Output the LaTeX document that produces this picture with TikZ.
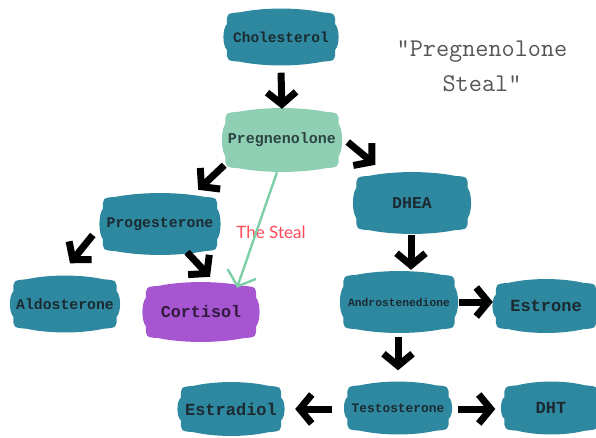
\documentclass[tikz,border=0pt]{standalone}
\usepackage{fontspec}
\newfontfamily\nodefont{Liberation Mono}
\newfontfamily\stealfont{Lato}
\usetikzlibrary{arrows.meta,calc,backgrounds}
\definecolor{tealc}{HTML}{2E88A0}
\definecolor{mintc}{HTML}{8FD0B4}
\definecolor{purpc}{HTML}{A656D0}
\definecolor{linegreen}{HTML}{7CCFA6}
\definecolor{stealred}{HTML}{FF4858}
\definecolor{txtdark}{HTML}{1B2A30}
\definecolor{titlegray}{HTML}{555555}
\newcommand\blob[2]{%
 \fill[#2] let \p1=(#1.south west), \p2=(#1.north east), \p3=($(#1.north east)-(#1.south west)$) in
 ({\x1+14pt},{\y2-3pt}) .. controls ({\x1+0.35*\x3},{\y2+2pt}) and ({\x2-0.35*\x3},{\y2+2pt}) .. ({\x2-14pt},{\y2-3pt})
 .. controls ({\x2-1pt},{\y2-4pt}) .. ({\x2-1pt},{\y2-15pt})
 .. controls ({\x2+3.5pt},{\y1+0.65*\y3}) and ({\x2+3.5pt},{\y1+0.35*\y3}) .. ({\x2-1pt},{\y1+15pt})
 .. controls ({\x2-1pt},{\y1+4pt}) .. ({\x2-14pt},{\y1+3pt})
 .. controls ({\x2-0.35*\x3},{\y1-2pt}) and ({\x1+0.35*\x3},{\y1-2pt}) .. ({\x1+14pt},{\y1+3pt})
 .. controls ({\x1+1pt},{\y1+4pt}) .. ({\x1+1pt},{\y1+15pt})
 .. controls ({\x1-3.5pt},{\y1+0.35*\y3}) and ({\x1-3.5pt},{\y1+0.65*\y3}) .. ({\x1+1pt},{\y2-15pt})
 .. controls ({\x1+1pt},{\y2-4pt}) .. cycle;}
\tikzset{
  chem/.style={inner sep=0pt, text=txtdark},
  arr/.style={line width=7pt, black, -{Straight Barb[length=12pt,width=29pt]}},
  steal/.style={line width=2.4pt, linegreen, -{Straight Barb[length=13pt,width=30pt]}},
}
\begin{document}
\begin{tikzpicture}[x=1pt,y=-1pt]
\useasboundingbox (0,0) rectangle (596,437);
% nodes
\node[chem, minimum width=110pt, minimum height=55pt, font=\nodefont\bfseries\fontsize{14.5}{16}\selectfont] (chol) at (281,37) {Cholesterol};
\node[chem, minimum width=115pt, minimum height=62pt, font=\nodefont\bfseries\fontsize{15}{17}\selectfont, text=txtdark!85!mintc] (preg) at (282,140) {Pregnenolone};
\node[chem, minimum width=113pt, minimum height=60pt, font=\nodefont\bfseries\fontsize{16.5}{18}\selectfont] (dhea) at (412,203) {DHEA};
\node[chem, minimum width=116pt, minimum height=60pt, font=\nodefont\bfseries\fontsize{14.8}{16}\selectfont] (prog) at (160,224) {Progesterone};
\node[chem, minimum width=105pt, minimum height=55pt, font=\nodefont\bfseries\fontsize{14.8}{16}\selectfont] (aldo) at (65,304) {Aldosterone};
\node[chem, minimum width=112pt, minimum height=58pt, font=\nodefont\bfseries\fontsize{16.7}{18}\selectfont, text=purpc!30!black] (cort) at (201,312) {Cortisol};
\node[chem, minimum width=113pt, minimum height=60pt, font=\nodefont\bfseries\fontsize{11.3}{13}\selectfont] (andro) at (399,302) {Androstenedione};
\node[chem, minimum width=102pt, minimum height=52pt, font=\nodefont\bfseries\fontsize{17}{19}\selectfont] (estrone) at (546,306) {Estrone};
\node[chem, minimum width=103pt, minimum height=51pt, font=\nodefont\bfseries\fontsize{12.9}{15}\selectfont] (testo) at (398,408) {Testosterone};
\node[chem, minimum width=102pt, minimum height=52pt, font=\nodefont\bfseries\fontsize{17}{19}\selectfont] (estradiol) at (231,409) {Estradiol};
\node[chem, minimum width=95pt, minimum height=51pt, font=\nodefont\bfseries\fontsize{17}{19}\selectfont] (dht) at (551,408) {DHT};
% labels
\node[font=\stealfont\fontsize{17}{19}\selectfont, text=stealred] (steallabel) at (271,232) {The Steal};
\node[font=\ttfamily\fontsize{25.5}{35}\selectfont, text=titlegray, align=center] (title) at (482,66) {"Pregnenolone\\Steal"};
% blob shapes
\begin{scope}[on background layer]
\blob{chol}{tealc}
\blob{preg}{mintc}
\blob{dhea}{tealc}
\blob{prog}{tealc}
\blob{aldo}{tealc}
\blob{cort}{purpc}
\blob{andro}{tealc}
\blob{estrone}{tealc}
\blob{testo}{tealc}
\blob{estradiol}{tealc}
\blob{dht}{tealc}
\end{scope}
% arrows
\draw[arr] ($(chol.south)+(0,8)$) -- (preg.north);
\draw[arr] ($(preg.east)+(8,2)$) -- ($(dhea.north west)+(20,-8)$);
\draw[arr] ($(preg.south west)+(0,-6)$) -- ($(prog.north east)+(-20,-4)$);
\draw[arr] ($(prog.west)+(-9,11)$) -- ($(aldo.north)+(5,-13)$);
\draw[arr] ($(prog.south)+(27,-2)$) -- ($(cort.north)+(9,-6)$);
\draw[arr] ($(dhea.south)+(-1,2)$) -- ($(andro.north)+(12,-2)$);
\draw[arr] ($(andro.east)+(3,0)$) -- ($(estrone.west)+(-2,-4)$);
\draw[arr] ($(andro.south)+(-1,5)$) -- ($(testo.north)+(0,-12)$);
\draw[arr] ($(testo.west)+(-14,1)$) -- ($(estradiol.east)+(13,0)$);
\draw[arr] ($(testo.east)+(8,1)$) -- ($(dht.west)+(-8,1)$);
\draw[steal] ($(preg.south)+(-5,1)$) -- ($(cort.north)+(36,5)$);
\end{tikzpicture}
\end{document}
